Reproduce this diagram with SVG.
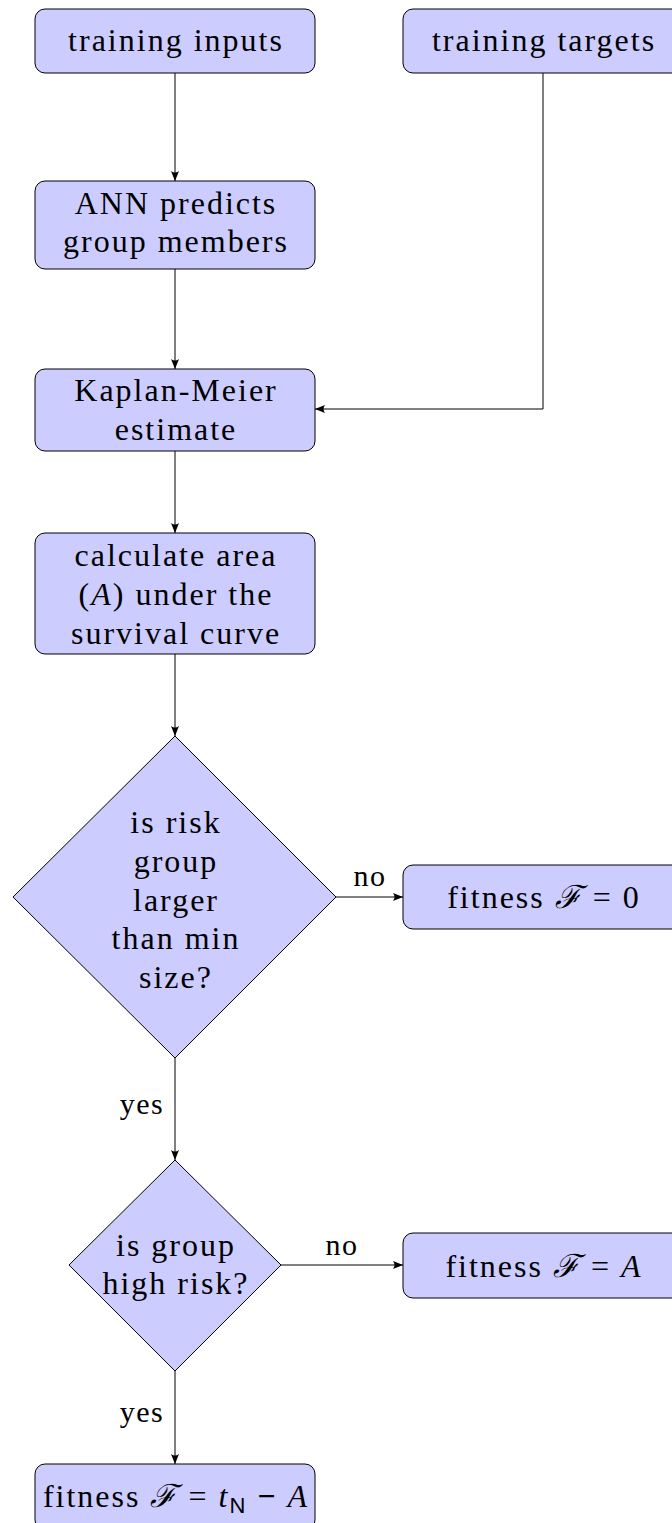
<svg xmlns="http://www.w3.org/2000/svg" width="672" height="1523" viewBox="0 0 672 1523">
<style>
.n{fill:#ccccff;stroke:#000;stroke-width:1}
.t{font-family:"Liberation Serif",serif;font-size:32px;letter-spacing:2px;fill:#000;text-anchor:middle}
.l{font-family:"Liberation Serif",serif;font-size:30px;letter-spacing:1.5px;fill:#000;text-anchor:middle}
.c{fill:none;stroke:#000;stroke-width:1}
.i{font-style:italic}
</style>
<defs>
<marker id="ah" viewBox="0 0 10 8" refX="10" refY="4" markerWidth="10" markerHeight="8" markerUnits="userSpaceOnUse" orient="auto">
<path d="M0,0 Q3,4 0,8 L10,4 Z" fill="#000"/>
</marker>
</defs>
<g id="connectors">
<path class="c" d="M175,73 V181" marker-end="url(#ah)"/>
<path class="c" d="M175,269 V369" marker-end="url(#ah)"/>
<path class="c" d="M543,73 V409 H315" marker-end="url(#ah)"/>
<path class="c" d="M175,451 V533" marker-end="url(#ah)"/>
<path class="c" d="M175,654 V736" marker-end="url(#ah)"/>
<path class="c" d="M336,897 H403" marker-end="url(#ah)"/>
<path class="c" d="M175,1058 V1160" marker-end="url(#ah)"/>
<path class="c" d="M281,1265 H403" marker-end="url(#ah)"/>
<path class="c" d="M175,1371 V1464" marker-end="url(#ah)"/>
<text class="l" x="370" y="886">no</text>
<text class="l" x="342" y="1255">no</text>
<text class="l" x="142" y="1114">yes</text>
<text class="l" x="142" y="1422">yes</text>
</g>
<g id="training-inputs">
<rect class="n" x="35" y="9" width="280" height="64" rx="10"/>
<text class="t" x="176" y="51">training inputs</text>
</g>
<g id="training-targets">
<rect class="n" x="403" y="9" width="280" height="64" rx="10"/>
<text class="t" x="544" y="51">training targets</text>
</g>
<g id="ann">
<rect class="n" x="35" y="181" width="280" height="88" rx="10"/>
<text class="t" x="176" y="214">ANN predicts</text>
<text class="t" x="176" y="252">group members</text>
</g>
<g id="km">
<rect class="n" x="35" y="369" width="280" height="82" rx="10"/>
<text class="t" x="176" y="401">Kaplan-Meier</text>
<text class="t" x="176" y="440">estimate</text>
</g>
<g id="area">
<rect class="n" x="35" y="533" width="280" height="121" rx="10"/>
<text class="t" x="176" y="566">calculate area</text>
<text class="t" x="176" y="605">(<tspan class="i">A</tspan>) under the</text>
<text class="t" x="176" y="644">survival curve</text>
</g>
<g id="min-size">
<polygon class="n" points="175,736 336,897 175,1058 13,897"/>
<text class="t" x="176" y="833">is risk</text>
<text class="t" x="176" y="872">group</text>
<text class="t" x="176" y="911">larger</text>
<text class="t" x="176" y="949">than min</text>
<text class="t" x="176" y="988">size?</text>
</g>
<g id="fit-zero">
<rect class="n" x="403" y="865" width="280" height="64" rx="10"/>
<text class="t" x="544" y="908">fitness <tspan class="i">ℱ</tspan> = 0</text>
</g>
<g id="high-risk">
<polygon class="n" points="175,1160 281,1265 175,1371 69,1265"/>
<text class="t" x="176" y="1256">is group</text>
<text class="t" x="176" y="1294">high risk?</text>
</g>
<g id="fit-a">
<rect class="n" x="403" y="1233" width="280" height="65" rx="10"/>
<text class="t" x="544" y="1277">fitness <tspan class="i">ℱ</tspan> = <tspan class="i">A</tspan></text>
</g>
<g id="fit-tn">
<rect class="n" x="35" y="1464" width="280" height="66" rx="10"/>
<text class="t" x="176" y="1507">fitness <tspan class="i">ℱ</tspan> = <tspan class="i">t</tspan><tspan font-family="Liberation Sans,sans-serif" font-size="22" dy="6">N</tspan><tspan dy="-6"> </tspan><tspan font-weight="bold">−</tspan> <tspan class="i">A</tspan></text>
</g>
</svg>
